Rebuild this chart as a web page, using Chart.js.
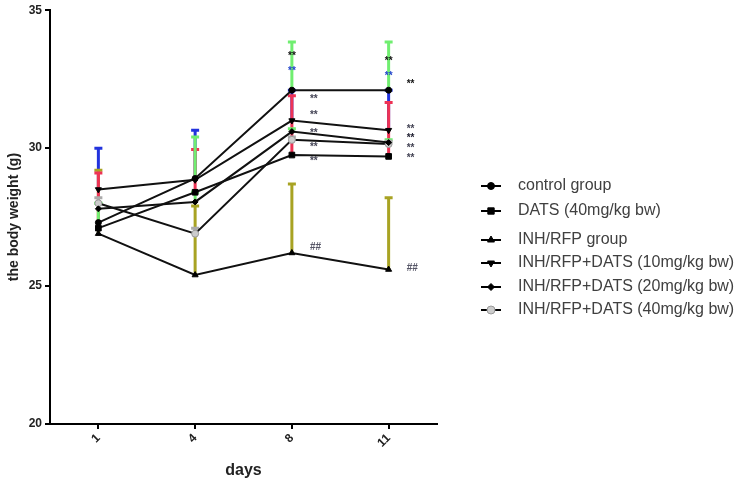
<!DOCTYPE html>
<html>
<head>
<meta charset="utf-8">
<script src="https://cdn.jsdelivr.net/npm/chart.js@4.4.0/dist/chart.umd.min.js"></script>
<style>
html, body { margin: 0; padding: 0; background: #fff; }
#wrap { width: 742px; height: 483px; }
</style>
</head>
<body>
<div id="wrap"><canvas id="grafico" width="742" height="483"></canvas></div>
<script>
// Dados do gráfico
const days = ['1', '4', '8', '11'];
const seriesNames = [
    'control group',
    'DATS (40mg/kg bw)',
    'INH/RFP group',
    'INH/RFP+DATS (10mg/kg bw)',
    'INH/RFP+DATS (20mg/kg bw)',
    'INH/RFP+DATS (40mg/kg bw)'
];
const control = [27.3, 28.9, 32.1, 32.1];
const dats40 = [27.1, 28.4, 29.75, 29.7];
const inhRfp = [26.9, 25.4, 26.2, 25.6];
const combo10 = [28.5, 28.85, 31.0, 30.65];
const combo20 = [27.8, 28.05, 30.6, 30.2];
const combo40 = [28.0, 26.9, 30.3, 30.15];

// desvios (barra só para cima)
const controlSD = [0.7, 1.5, 1.75, 1.75];
const dats40SD = [2.0, 1.55, 2.15, 1.95];
const inhRfpSD = [2.3, 2.5, 2.5, 2.6];
const combo10SD = [1.5, 1.8, 1.1, 1.45];
const combo20SD = [0.2, 0.35, 0.1, 0.1];
const combo40SD = [0.2, 0.2, 0.1, 0.1];

const yTicks = [20, 25, 30, 35];

// marcas de significância: dia, valor, texto, cor, lado
const markDay = [2, 2, 2, 2, 2, 2, 2, 3, 3, 3, 3, 3, 3, 3, 2, 3];
const markValue = [33.34, 32.77, 31.76, 31.18, 30.53, 30.03, 29.52, 33.16, 32.62, 32.3, 30.68, 30.35, 30.0, 29.63, 26.4, 25.63];
const markText = ['**', '**', '**', '**', '**', '**', '**', '**', '**', '**', '**', '**', '**', '**', '##', '##'];
const markColor = ['#111', '#2244cc', '#445', '#445', '#445', '#445', '#445', '#111', '#2244cc', '#111', '#445', '#223', '#445', '#445', '#556', '#556'];
const markSide = ['top', 'top', 'right', 'right', 'right', 'right', 'right', 'top', 'top', 'right', 'right', 'right', 'right', 'right', 'right', 'right'];

const FONT = 'Liberation Sans, Arial, sans-serif';

// Barras de erro desenhadas pelas escalas do gráfico
const errorOrder = [3, 2, 1, 0, 4, 5];
const errorBars = {
    id: 'errorBars',
    beforeDatasetsDraw(chart) {
        const { ctx, scales: { x, y } } = chart;
        ctx.save();
        errorOrder.forEach(i => {
            const ds = chart.data.datasets[i];
            ds.sd.forEach((sd, j) => {
                const px = x.getPixelForValue(j);
                const y0 = y.getPixelForValue(ds.data[j]);
                const y1 = y.getPixelForValue(ds.data[j] + sd);
                ctx.strokeStyle = ds.errorColor;
                ctx.lineWidth = 3;
                ctx.beginPath();
                ctx.moveTo(px, y0);
                ctx.lineTo(px, y1);
                ctx.moveTo(px - 4, y1);
                ctx.lineTo(px + 4, y1);
                ctx.stroke();
            });
        });
        ctx.restore();
    }
};

const marks = {
    id: 'marks',
    afterDatasetsDraw(chart) {
        const { ctx, scales: { x, y } } = chart;
        ctx.save();
        ctx.font = 'bold 10px ' + FONT;
        ctx.textBaseline = 'middle';
        markText.forEach((t, k) => {
            const px = x.getPixelForValue(markDay[k]);
            const py = y.getPixelForValue(markValue[k]);
            ctx.fillStyle = markColor[k];
            if (markSide[k] === 'top') {
                ctx.textAlign = 'center';
                ctx.fillText(t, px, py);
            } else {
                ctx.textAlign = 'left';
                ctx.fillText(t, px + 18, py);
            }
        });
        ctx.restore();
    }
};

// Legenda própria à direita
const legendRowY = [186, 211, 240, 263, 287, 310];
const sideLegend = {
    id: 'sideLegend',
    afterDraw(chart) {
        const ctx = chart.ctx;
        ctx.save();
        chart.data.datasets.forEach((ds, i) => {
            const ly = legendRowY[i];
            ctx.strokeStyle = '#000';
            ctx.lineWidth = 2;
            ctx.beginPath();
            ctx.moveTo(481, ly);
            ctx.lineTo(501, ly);
            ctx.stroke();
            ctx.fillStyle = ds.pointBackgroundColor;
            ctx.strokeStyle = ds.pointBorderColor;
            ctx.lineWidth = 1;
            Chart.helpers.drawPoint(ctx, {
                pointStyle: ds.pointStyle,
                radius: ds.pointRadius + 0.5,
                rotation: ds.pointRotation || 0,
                borderWidth: 1
            }, 491, ly);
            ctx.fillStyle = '#404040';
            ctx.font = '16px ' + FONT;
            ctx.textAlign = 'left';
            ctx.textBaseline = 'middle';
            ctx.fillText(seriesNames[i], 518, ly);
        });
        ctx.restore();
    }
};

function serie(i, data, sd, errorColor, style, extra) {
    return Object.assign({
        label: seriesNames[i],
        data: data,
        sd: sd,
        errorColor: errorColor,
        borderColor: '#111',
        borderWidth: 2,
        tension: 0,
        fill: false,
        pointStyle: style,
        pointRadius: 3,
        pointBackgroundColor: '#000',
        pointBorderColor: '#000',
        pointBorderWidth: 1
    }, extra || {});
}

const ctx = document.getElementById('grafico').getContext('2d');
const grafico = new Chart(ctx, {
    type: 'line',
    data: {
        labels: days,
        datasets: [
            serie(0, control, controlSD, '#70ee70', 'circle'),
            serie(1, dats40, dats40SD, '#ee3355', 'rect', { pointRadius: 4 }),
            serie(2, inhRfp, inhRfpSD, '#a8a323', 'triangle', { pointRadius: 3.5 }),
            serie(3, combo10, combo10SD, '#2233dd', 'triangle', { pointRadius: 3.5, pointRotation: 180 }),
            serie(4, combo20, combo20SD, '#70ee70', 'rectRot'),
            serie(5, combo40, combo40SD, '#aaaaaa', 'circle', { pointRadius: 3.5, pointBackgroundColor: '#ccc', pointBorderColor: '#999' })
        ]
    },
    options: {
        responsive: false,
        animation: false,
        layout: { padding: { left: 0, right: 305, top: 8, bottom: 0 } },
        plugins: { legend: { display: false }, tooltip: { enabled: false } },
        scales: {
            x: {
                offset: true,
                grid: { display: true, drawOnChartArea: false, offset: false, color: '#000', lineWidth: 2, tickLength: 5 },
                border: { color: '#000', width: 2 },
                ticks: { color: '#222', font: { family: FONT, weight: 'bold', size: 12 }, minRotation: 45, maxRotation: 45, padding: 2 },
                title: { display: true, text: 'days', color: '#222', font: { family: FONT, weight: 'bold', size: 16 }, padding: { top: 0, bottom: 3 } },
                afterFit: s => { s.height = 59; }
            },
            y: {
                min: 20,
                max: 35,
                afterBuildTicks: s => { s.ticks = yTicks.map(v => ({ value: v })); },
                grid: { display: true, drawOnChartArea: false, color: '#000', lineWidth: 2, tickLength: 5 },
                border: { color: '#000', width: 2 },
                ticks: { color: '#222', font: { family: FONT, weight: 'bold', size: 12 }, padding: 3 },
                title: { display: true, text: 'the body weight (g)', color: '#222', font: { family: FONT, weight: 'bold', size: 14 }, padding: { top: 6, bottom: 0 } },
                afterFit: s => { s.width = 50; }
            }
        }
    },
    plugins: [errorBars, marks, sideLegend]
});
</script>
</body>
</html>
